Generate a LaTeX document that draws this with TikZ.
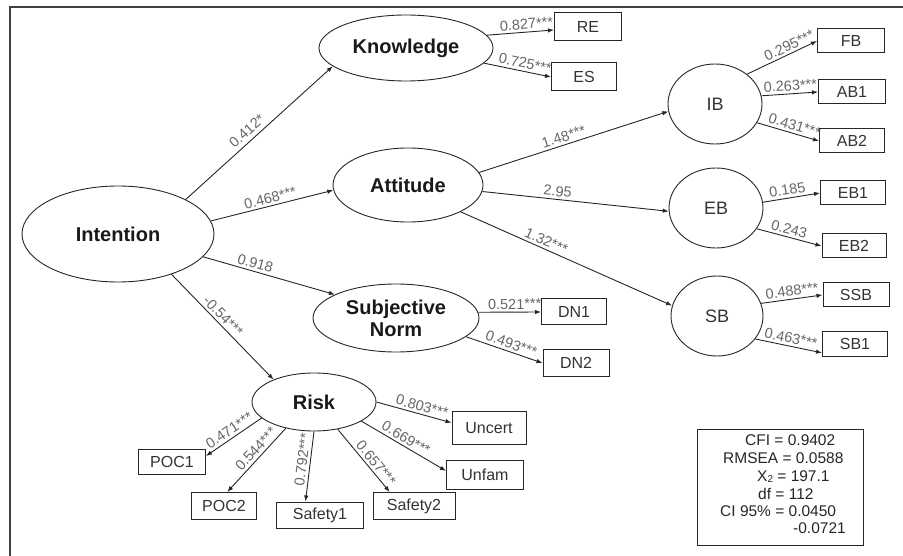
\documentclass[tikz,border=0pt]{standalone}
\usepackage{fontspec}
\setmainfont{Liberation Sans}
\usetikzlibrary{shapes.geometric,arrows.meta}
\begin{document}
\begin{tikzpicture}[x=1pt,y=-1pt,
 lat/.style={ellipse,draw=black!85,line width=0.9pt,inner sep=0pt,font=\fontsize{20}{22}\selectfont\bfseries,align=center,text=black!90},
 latb/.style={ellipse,draw=black!85,line width=0.9pt,inner sep=0pt,font=\fontsize{18}{20}\selectfont,text=black!80},
 obs/.style={rectangle,draw=black!85,line width=1pt,inner sep=0pt,font=\fontsize{16}{18}\selectfont,text=black!80},
 arr/.style={-{Latex[length=6pt,width=4.5pt]},line width=0.9pt,draw=black!85},
 lab/.style={font=\fontsize{14.5}{16}\selectfont,text=black!60,sloped,above,inner sep=2.5pt},
 stat/.style={anchor=base west,inner sep=0pt,font=\fontsize{15.5}{17}\selectfont,text=black!85},
]
\useasboundingbox (0,0) rectangle (903,556);
\draw[line width=2pt,black!75] (10,556) -- (10,7) -- (903,7);

% latent variables
\node[lat,minimum width=192pt,minimum height=96pt] (int) at (118,234) {Intention};
\node[lat,minimum width=174pt,minimum height=66pt] (kn) at (406,48) {Knowledge};
\node[lat,minimum width=150pt,minimum height=74pt] (att) at (408,185) {Attitude};
\node[lat,minimum width=166pt,minimum height=68pt] (sn) at (396,318) {Subjective\\Norm};
\node[lat,minimum width=124pt,minimum height=58pt] (risk) at (314,402) {Risk};
\node[latb,minimum width=94pt,minimum height=80pt] (ib) at (715,104) {IB};
\node[latb,minimum width=94pt,minimum height=80pt] (eb) at (716,208) {EB};
\node[latb,minimum width=92pt,minimum height=80pt] (sb) at (717,316) {SB};

% observed variables
\node[obs,minimum width=67pt,minimum height=28pt] (RE) at (588,27) {RE};
\node[obs,minimum width=65pt,minimum height=28pt] (ES) at (584,77) {ES};
\node[obs,minimum width=67pt,minimum height=24pt] (FB) at (851,41) {FB};
\node[obs,minimum width=67pt,minimum height=24pt] (AB1) at (852,92) {AB1};
\node[obs,minimum width=65pt,minimum height=24pt] (AB2) at (852,141) {AB2};
\node[obs,minimum width=65pt,minimum height=24pt] (EB1) at (853,193) {EB1};
\node[obs,minimum width=64pt,minimum height=24pt] (EB2) at (854,246) {EB2};
\node[obs,minimum width=66pt,minimum height=24pt] (SSB) at (856,295) {SSB};
\node[obs,minimum width=65pt,minimum height=24pt] (SB1) at (855,344) {SB1};
\node[obs,minimum width=65pt,minimum height=26pt] (DN1) at (574,312) {DN1};
\node[obs,minimum width=66pt,minimum height=27pt] (DN2) at (576,363) {DN2};
\node[obs,minimum width=74pt,minimum height=33pt] (Uncert) at (489,428) {Uncert};
\node[obs,minimum width=77pt,minimum height=29pt] (Unfam) at (485,475) {Unfam};
\node[obs,minimum width=67pt,minimum height=25pt] (POC1) at (172,462) {POC1};
\node[obs,minimum width=65pt,minimum height=27pt] (POC2) at (224,506) {POC2};
\node[obs,minimum width=87pt,minimum height=26pt] (Safety1) at (320,515) {Safety1};
\node[obs,minimum width=82pt,minimum height=27pt] (Safety2) at (414,506) {Safety2};

% structural paths
\draw[arr] (int.27) -- node[lab,pos=0.46,inner sep=4pt]{0.412*} (kn.194);
\draw[arr] (int.8) -- node[lab,pos=0.50]{0.468***} (att.184);
\draw[arr] (int.345) -- node[lab,pos=0.38]{0.918} (sn.159);
\draw[arr] (int.323) -- node[lab,pos=0.45]{-0.54***} (risk.151);
\draw[arr] (att.10) -- node[lab,pos=0.46]{1.48***} (ib.189);
\draw[arr] (att.355) -- node[lab,pos=0.40]{2.95} (eb.184);
\draw[arr] (att.333) -- node[lab,pos=0.39]{1.32***} (sb.167);

% measurement paths
\draw[arr] (kn.9) -- node[lab,pos=0.6]{0.827***} (RE.185);
\draw[arr] (kn.349) -- node[lab,pos=0.59]{0.725***} (ES.west);
\draw[arr] (ib.43) -- node[lab,pos=0.65]{0.295***} (FB.west);
\draw[arr] (ib.10) -- node[lab,pos=0.52]{0.263***} (AB1.west);
\draw[arr] (ib.336) -- node[lab,pos=0.57]{0.431***} (AB2.west);
\draw[arr] (eb.7) -- node[lab,pos=0.45]{0.185} (EB1.west);
\draw[arr] (eb.333) -- node[lab,pos=0.47]{0.243} (EB2.west);
\draw[arr] (sb.16) -- node[lab,pos=0.52]{0.488***} (SSB.west);
\draw[arr] (sb.329) -- node[lab,pos=0.51]{0.463***} (SB1.195);
\draw[arr] (sn.4) -- node[lab,pos=0.58]{0.521***} (DN1.west);
\draw[arr] (sn.345) -- node[lab,pos=0.56]{0.493***} (DN2.west);
\draw[arr] (risk.0) -- node[lab,pos=0.58]{0.803***} (Uncert.172);
\draw[arr] (risk.338) -- node[lab,pos=0.48]{0.669***} (Unfam.174);
\draw[arr] (risk.311) -- node[lab,pos=0.62]{0.657***} (Safety2.150);
\draw[arr] (risk.270) -- node[lab,pos=0.42]{0.792***} (Safety1.137);
\draw[arr] (risk.223) -- node[lab,pos=0.41]{0.544***} (POC2.77);
\draw[arr] (risk.197) -- node[lab,pos=0.50]{0.471***} (POC1.10);

% fit statistics
\node[draw=black!85,line width=1pt,minimum width=166pt,minimum height=116pt,inner sep=0pt] (stats) at (780,487) {};
\node[stat] (s1) at (745,445) {CFI = 0.9402};
\node[stat] (s2) at (723,463) {RMSEA = 0.0588};
\node[stat] (s3) at (757,481) {X\raisebox{-1pt}{\fontsize{10}{10}\selectfont 2} = 197.1};
\node[stat] (s4) at (758,499) {df = 112};
\node[stat] (s5) at (720,516) {CI 95\% = 0.0450};
\node[stat] (s6) at (793,533) {-0.0721};
\end{tikzpicture}
\end{document}
